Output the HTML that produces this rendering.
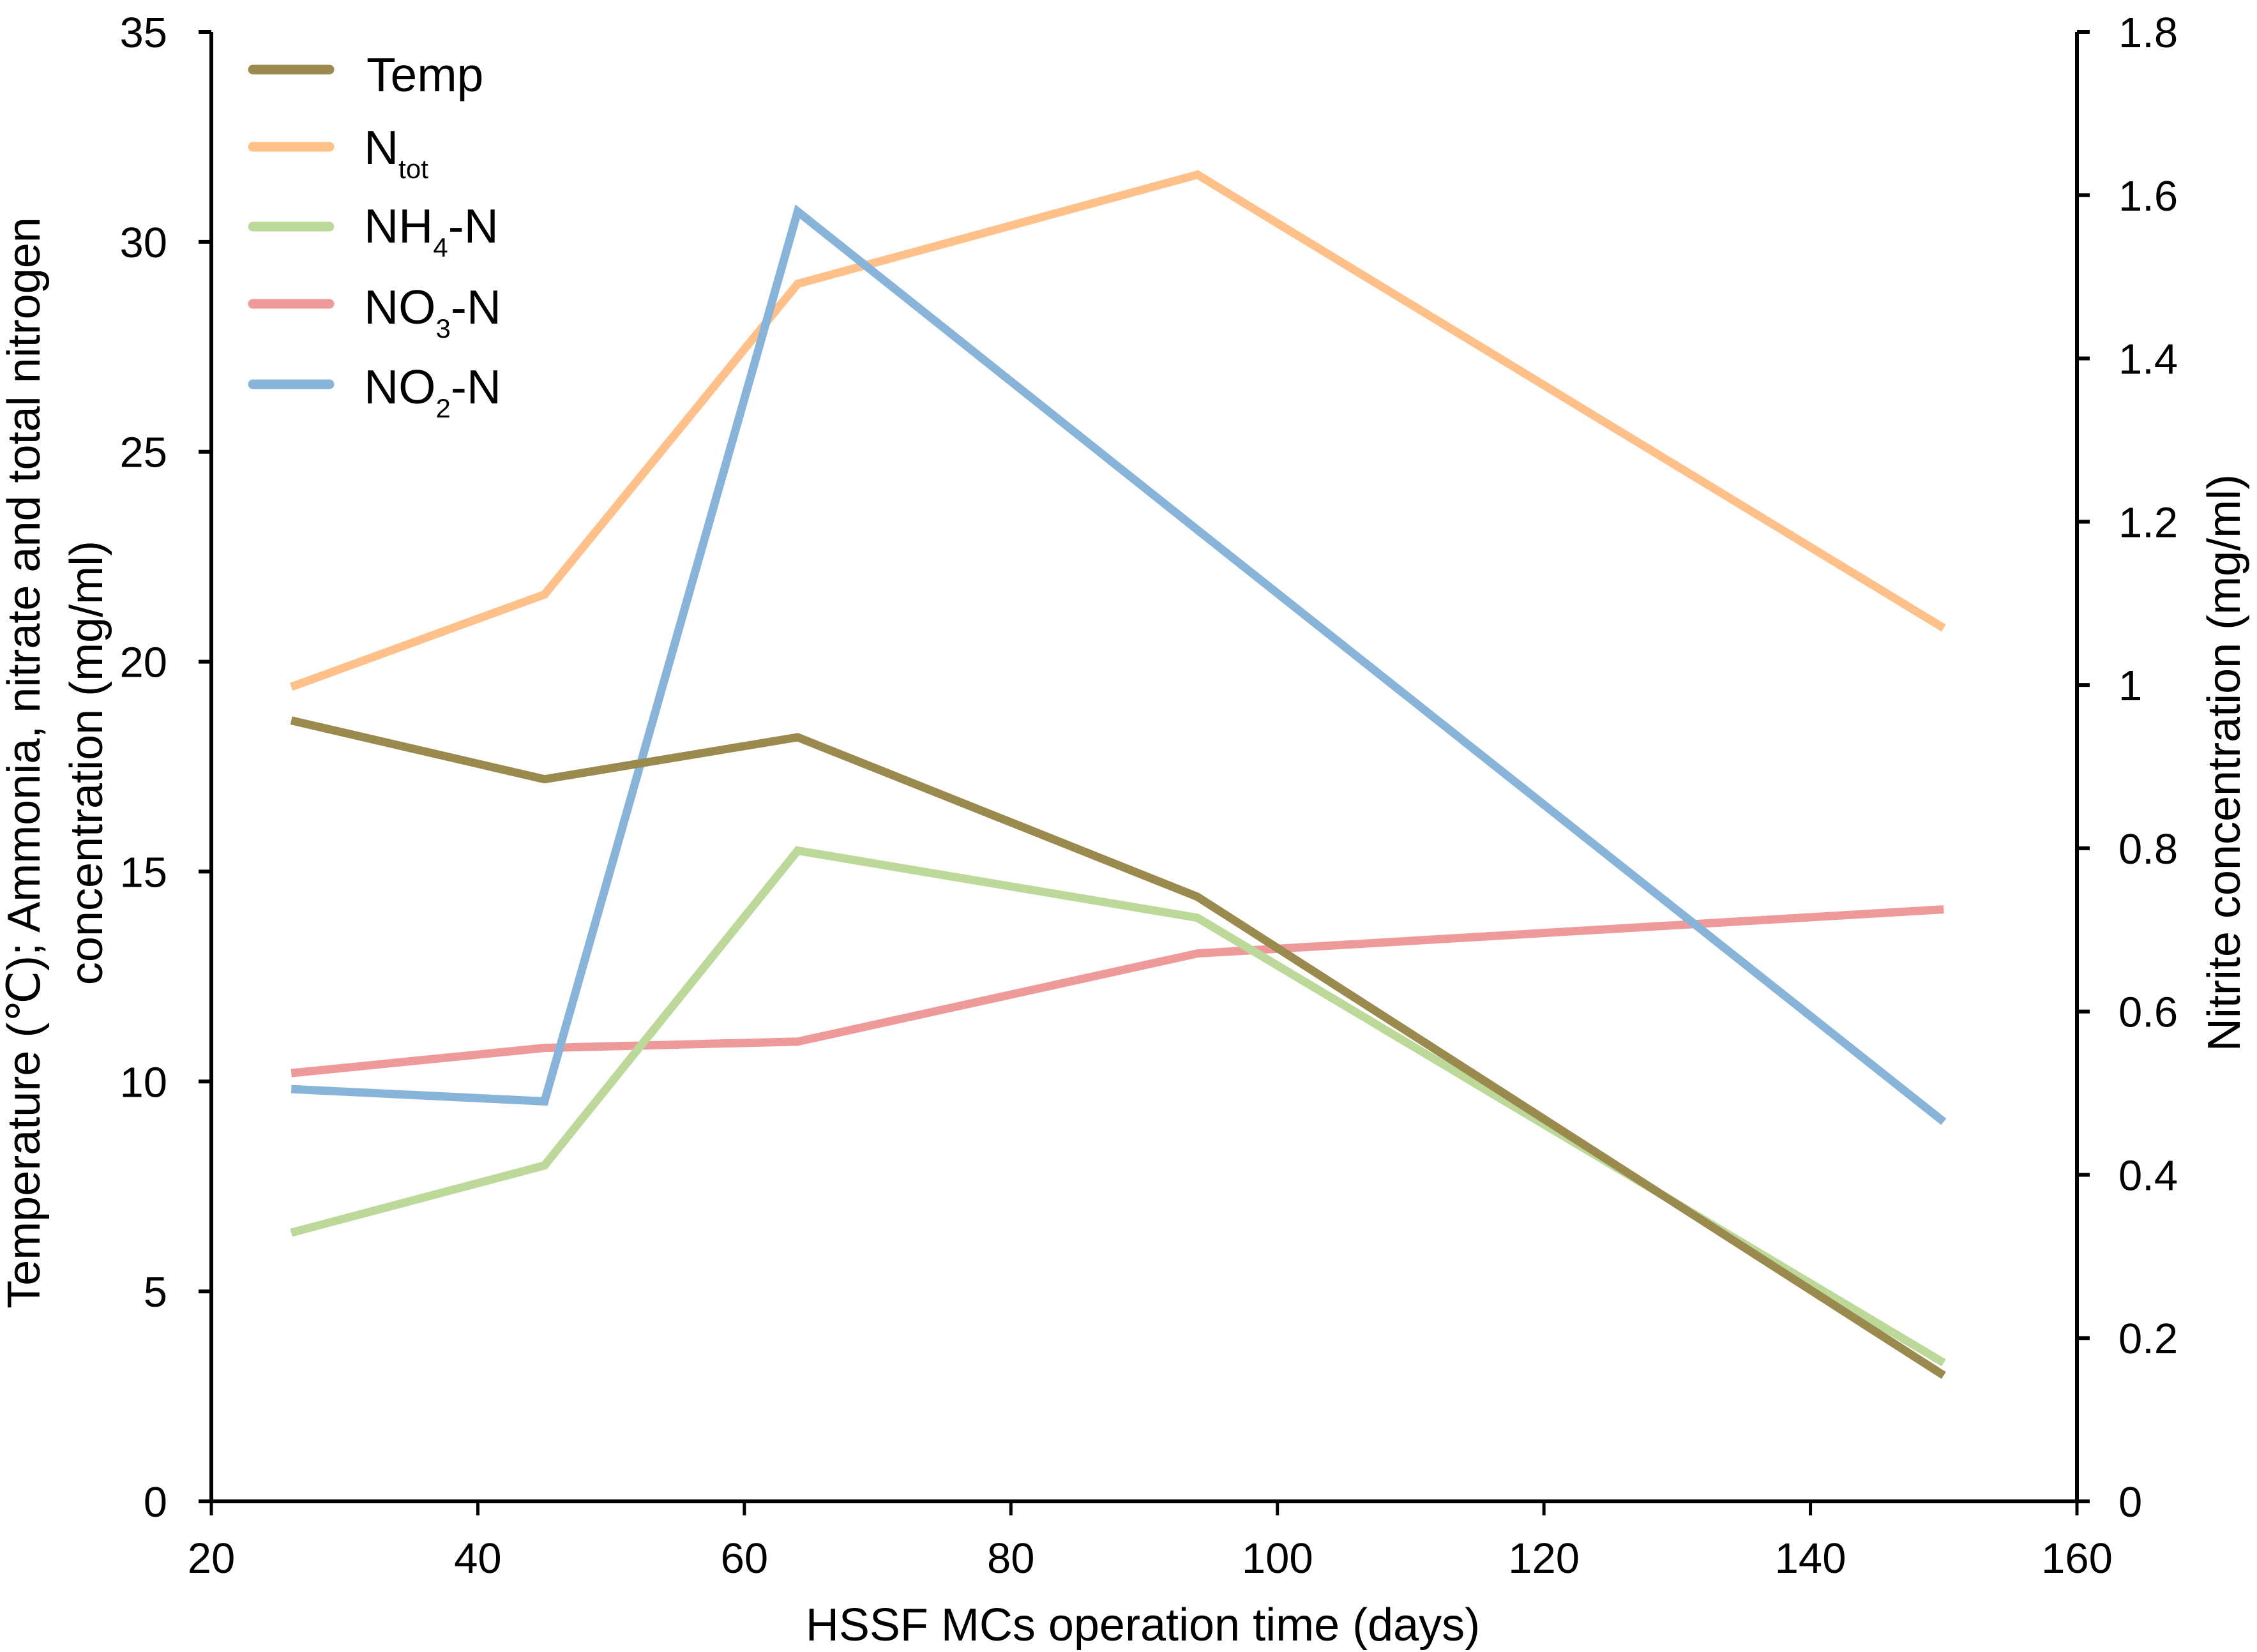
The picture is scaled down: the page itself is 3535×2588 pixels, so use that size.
<!DOCTYPE html>
<html><head><meta charset="utf-8"><style>
html,body{margin:0;padding:0;background:#fff}
svg{display:block}
text{font-family:"Liberation Sans",Arial,sans-serif;fill:#000}
</style></head><body>
<svg id="chart" width="3535" height="2588" viewBox="0 0 3535 2588" xmlns="http://www.w3.org/2000/svg">
<g id="series"></g>
<g id="axes"></g>
<g id="legend">
  <line x1="396" y1="109" x2="516" y2="109" stroke="#9a8a4e" stroke-width="15" stroke-linecap="round"/>
  <text x="574" y="143" font-size="75">Temp</text>
  <line x1="396" y1="230" x2="516" y2="230" stroke="#ffc08a" stroke-width="15" stroke-linecap="round"/>
  <text x="570" y="257" font-size="75">N<tspan font-size="42" dy="22">tot</tspan></text>
  <line x1="396" y1="355" x2="516" y2="355" stroke="#bcd99a" stroke-width="15" stroke-linecap="round"/>
  <text x="570" y="380" font-size="75">NH<tspan font-size="42" dy="22">4</tspan><tspan dy="-22">-N</tspan></text>
  <line x1="396" y1="476" x2="516" y2="476" stroke="#ef9a9a" stroke-width="15" stroke-linecap="round"/>
  <text x="570" y="507" font-size="75">NO<tspan font-size="42" dy="22">3</tspan><tspan dy="-22">-N</tspan></text>
  <line x1="396" y1="602" x2="516" y2="602" stroke="#88b4da" stroke-width="15" stroke-linecap="round"/>
  <text x="570" y="632" font-size="75">NO<tspan font-size="42" dy="22">2</tspan><tspan dy="-22">-N</tspan></text>
</g>
<text x="1790" y="2570" font-size="72" text-anchor="middle">HSSF MCs operation time (days)</text>
<text transform="translate(62,1195) rotate(-90)" font-size="72" text-anchor="middle">Temperature (℃); Ammonia, nitrate and total nitrogen</text>
<text transform="translate(160,1195) rotate(-90)" font-size="72" text-anchor="middle">concentration (mg/ml)</text>
<text transform="translate(3508,1195) rotate(-90)" font-size="72" text-anchor="middle">Nitrite concentration (mg/ml)</text>
</svg>
<script>
const days = [26, 45, 64, 94, 150];
const temp = [18.6, 17.2, 18.2, 14.4, 3.0];
const ntot = [19.4, 21.6, 29.0, 31.6, 20.8];
const nh4 = [6.4, 8.0, 15.5, 13.9, 3.3];
const no3 = [10.2, 10.8, 10.95, 13.05, 14.1];
const no2 = [0.505, 0.49, 1.58, 1.19, 0.465];
const xTicks = [20, 40, 60, 80, 100, 120, 140, 160];
const yLeftTicks = [0, 5, 10, 15, 20, 25, 30, 35];
const yRightTicks = [0, 0.2, 0.4, 0.6, 0.8, 1, 1.2, 1.4, 1.6, 1.8];

const L = 331, R = 3253, T = 50, B = 2352;
const xs = d => L + (d - 20) / 140 * (R - L);
const yl = v => B - v / 35 * (B - T);
const yr = v => B - v / 1.8 * (B - T);
const NS = 'http://www.w3.org/2000/svg';
const axes = document.getElementById('axes');
const series = document.getElementById('series');
function mk(tag, attrs, parent) {
  const e = document.createElementNS(NS, tag);
  for (const k in attrs) e.setAttribute(k, attrs[k]);
  parent.appendChild(e);
  return e;
}
function drawSeries(vals, yf, color, name) {
  const pts = vals.map((v, i) => xs(days[i]) + ',' + yf(v)).join(' ');
  const p = mk('polyline', {points: pts, fill: 'none', stroke: color, 'stroke-width': 13, 'stroke-linejoin': 'miter'}, series);
  
  
}
drawSeries(ntot, yl, '#ffc08a', 'line-ntot');
drawSeries(no3, yl, '#ef9a9a', 'line-no3');
drawSeries(nh4, yl, '#bcd99a', 'line-nh4');
drawSeries(no2, yr, '#88b4da', 'line-no2');
drawSeries(temp, yl, '#9a8a4e', 'line-temp');

let a = mk('line', {x1: L, y1: T, x2: L, y2: B, stroke: '#000', 'stroke-width': 6}, axes);


a = mk('line', {x1: R, y1: T, x2: R, y2: B + 3, stroke: '#000', 'stroke-width': 6}, axes);


a = mk('line', {x1: L - 3, y1: B, x2: R + 3, y2: B, stroke: '#000', 'stroke-width': 6}, axes);



xTicks.forEach(t => {
  const x = xs(t);
  const tk = mk('line', {x1: x, y1: B, x2: x, y2: B + 22, stroke: '#000', 'stroke-width': 5}, axes);
  
  
  const tx = mk('text', {x: x, y: 2464, 'font-size': 67, 'text-anchor': 'middle'}, axes);
  tx.textContent = t;
  
  
});
yLeftTicks.forEach(t => {
  const y = yl(t);
  const tk = mk('line', {x1: L - 20, y1: y, x2: L, y2: y, stroke: '#000', 'stroke-width': 6}, axes);
  
  
  const tx = mk('text', {x: 262, y: y + 24, 'font-size': 67, 'text-anchor': 'end'}, axes);
  tx.textContent = t;
  
  
});
yRightTicks.forEach(t => {
  const y = yr(t);
  const tk = mk('line', {x1: R, y1: y, x2: R + 20, y2: y, stroke: '#000', 'stroke-width': 6}, axes);
  
  
  const tx = mk('text', {x: 3318, y: y + 24, 'font-size': 67, 'text-anchor': 'start'}, axes);
  tx.textContent = String(t);
  
  
});
</script>
</body></html>
